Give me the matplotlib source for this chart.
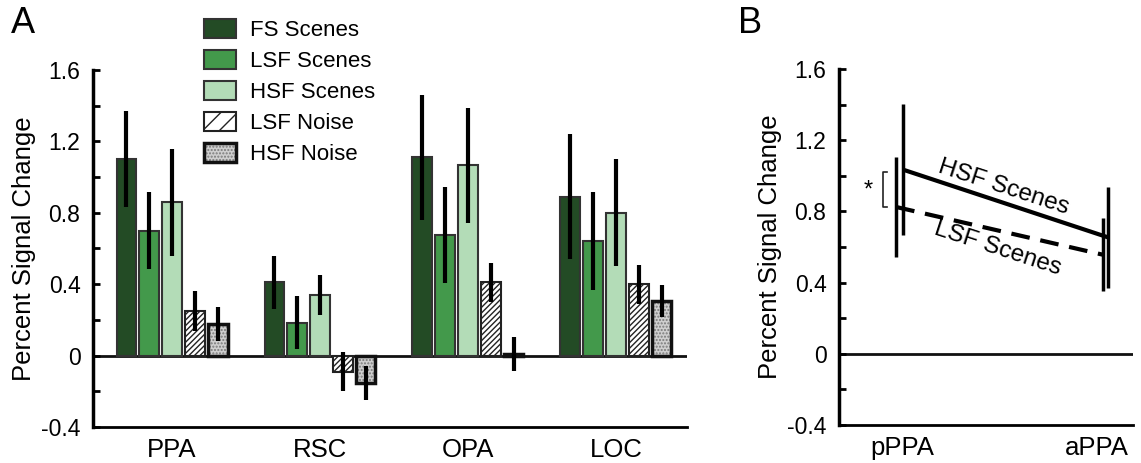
import numpy as np
import matplotlib
matplotlib.use("Agg")
import matplotlib.pyplot as plt
from matplotlib.patches import Patch
from matplotlib.legend_handler import HandlerTuple

plt.rcParams['font.family'] = ['Liberation Sans', 'DejaVu Sans']
plt.rcParams['hatch.linewidth'] = 1.0

# ---------------- data ----------------
regions = ["PPA", "RSC", "OPA", "LOC"]
conditions = ["FS Scenes", "LSF Scenes", "HSF Scenes", "LSF Noise", "HSF Noise"]
fs_scenes = [1.10, 0.41, 1.11, 0.89]
fs_err = [0.27, 0.15, 0.35, 0.35]
lsf_scenes = [0.70, 0.185, 0.675, 0.64]
lsf_err = [0.215, 0.15, 0.27, 0.275]
hsf_scenes = [0.86, 0.34, 1.065, 0.80]
hsf_err = [0.30, 0.11, 0.32, 0.30]
lsf_noise = [0.25, -0.09, 0.41, 0.40]
lsf_noise_err = [0.11, 0.11, 0.11, 0.11]
hsf_noise = [0.175, -0.155, 0.01, 0.305]
hsf_noise_err = [0.095, 0.095, 0.095, 0.09]

ppa_parts = ["pPPA", "aPPA"]
hsf_ppa = [1.035, 0.655]
hsf_ppa_err = [0.37, 0.285]
lsf_ppa = [0.825, 0.557]
lsf_ppa_err = [0.28, 0.205]

yticks = [-0.4, 0, 0.4, 0.8, 1.2, 1.6]
ytick_labels = ["-0.4", "0", "0.4", "0.8", "1.2", "1.6"]

# ---------------- style ----------------
c_fs = "#234b25"
c_lsf = "#43994b"
c_hsf = "#b3dcb7"
edge = "#333333"
TICK_FS = 16.5
XTICK_FS = 18.5
YLAB_FS = 18.5

fig = plt.figure(figsize=(11.41, 4.63), dpi=100)
axA = fig.add_axes([0.0815, 0.0778, 0.5206, 0.7711])
axB = fig.add_axes([0.7353, 0.0820, 0.2577, 0.7689])


def style_axis(ax):
    ax.set_ylim(-0.4, 1.6)
    ax.set_yticks(yticks)
    ax.set_yticklabels(ytick_labels)
    ax.set_yticks(np.arange(-0.2, 1.6, 0.4), minor=True)
    ax.tick_params(axis='y', which='both', direction='in', length=5, width=2,
                   labelsize=TICK_FS, pad=9)
    ax.tick_params(axis='x', length=0, labelsize=XTICK_FS, pad=8)
    for s in ['top', 'right']:
        ax.spines[s].set_visible(False)
    ax.spines['left'].set_linewidth(2.5)
    ax.spines['bottom'].set_linewidth(2)
    ax.axhline(0, color='#111111', lw=2, zorder=1)
    ax.set_ylabel("Percent Signal Change", fontsize=YLAB_FS, labelpad=4)


# ---------------- Panel A ----------------
x = np.arange(len(regions))
step = 0.155
w = 0.13
series = [fs_scenes, lsf_scenes, hsf_scenes, lsf_noise, hsf_noise]
errs = [fs_err, lsf_err, hsf_err, lsf_noise_err, hsf_noise_err]
for i, (vals, e) in enumerate(zip(series, errs)):
    pos = x + (i - 2) * step
    if i < 3:
        col = [c_fs, c_lsf, c_hsf][i]
        axA.bar(pos, vals, w, color=col, edgecolor=edge, linewidth=1.5, zorder=2)
    elif i == 3:
        axA.bar(pos, vals, w, color='white', edgecolor='#222222', hatch='//////',
                linewidth=1.5, zorder=2)
    else:
        axA.bar(pos, vals, w, color='#cfcfcf', edgecolor='#7a7a7a', hatch='.....',
                linewidth=0, zorder=2)
        axA.bar(pos, vals, w, fill=False, edgecolor='#111111', linewidth=2.5, zorder=2)
    axA.errorbar(pos, vals, yerr=e, fmt='none', ecolor='black', elinewidth=3,
                 capsize=0, zorder=3)

style_axis(axA)
axA.set_xlim(-0.534, 3.48)
axA.set_xticks(x)
axA.set_xticklabels(regions)

# legend
h_fs = Patch(facecolor=c_fs, edgecolor=edge, linewidth=1.5)
h_lsf = Patch(facecolor=c_lsf, edgecolor=edge, linewidth=1.5)
h_hsf = Patch(facecolor=c_hsf, edgecolor=edge, linewidth=1.5)
h_ln = Patch(facecolor='white', edgecolor='#222222', hatch='//', linewidth=1.5)
h_hn = (Patch(facecolor='#cfcfcf', edgecolor='#7a7a7a', hatch='.....', linewidth=0),
        Patch(fill=False, edgecolor='#111111', linewidth=2.5))
fig.legend([h_fs, h_lsf, h_hsf, h_ln, h_hn], conditions,
           handler_map={tuple: HandlerTuple(ndivide=1)},
           loc='upper left', bbox_to_anchor=(0.179, 0.960), frameon=False,
           fontsize=16, handlelength=1.45, handleheight=1.0,
           handletextpad=0.6, labelspacing=0.38, borderpad=0, borderaxespad=0)

fig.text(0.010, 0.988, "A", fontsize=26, va='top', ha='left')
fig.text(0.647, 0.988, "B", fontsize=26, va='top', ha='left')

# ---------------- Panel B ----------------
xb = np.arange(len(ppa_parts))
hsf_pos = xb + np.array([0.005, 0.055])
lsf_pos = xb + np.array([-0.03, 0.03])
axB.errorbar(lsf_pos, lsf_ppa, yerr=lsf_ppa_err, fmt='none', ecolor='black',
             elinewidth=2.5, capsize=0, zorder=3)
axB.errorbar(hsf_pos, hsf_ppa, yerr=hsf_ppa_err, fmt='none', ecolor='black',
             elinewidth=2.5, capsize=0, zorder=3)
axB.plot(hsf_pos, hsf_ppa, color='black', lw=3, solid_capstyle='butt', zorder=4)
axB.plot(lsf_pos, lsf_ppa, color='black', lw=3, dashes=(4.5, 2.6), zorder=4)

style_axis(axB)
axB.set_xlim(-0.323, 1.185)
axB.set_xticks(xb)
axB.set_xticklabels(ppa_parts)

axB.text(0.52, 0.935, "HSF Scenes", fontsize=17.5, rotation=-18,
         ha='center', va='center', rotation_mode='anchor')
axB.text(0.49, 0.59, "LSF Scenes", fontsize=17.5, rotation=-18,
         ha='center', va='center', rotation_mode='anchor')

# significance bracket
bx = -0.097
axB.plot([bx + 0.018, bx, bx, bx + 0.018], [1.02, 1.02, 0.825, 0.825],
         color='#222222', lw=1.2)
axB.text(-0.172, 0.915, "*", fontsize=17, ha='center', va='center')

fig.savefig("out.png", dpi=100)
